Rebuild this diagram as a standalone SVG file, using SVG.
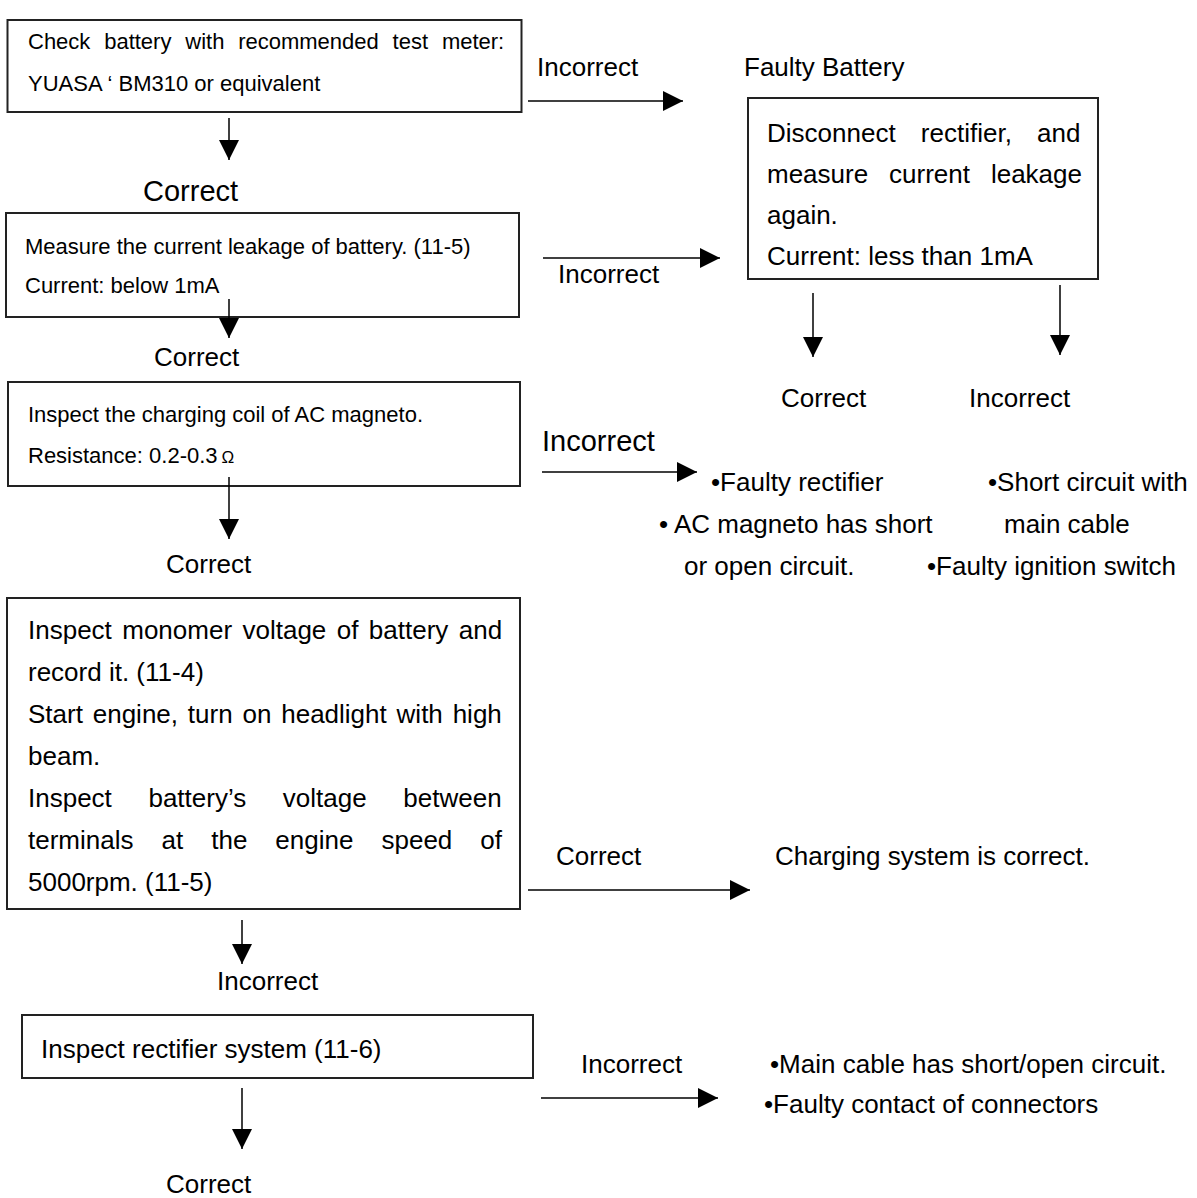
<svg xmlns="http://www.w3.org/2000/svg" width="1197" height="1198" viewBox="0 0 1197 1198">
<style>
text{font-family:"Liberation Sans",Arial,sans-serif;fill:#000}
.box{fill:#fff;stroke:#222;stroke-width:2}
.t22{font-size:22px}
.t26{font-size:26px}
.t29{font-size:29px}
.con{fill:none;stroke:#000;stroke-width:1.5;marker-end:url(#ah)}
</style>
<defs>
<marker id="ah" markerUnits="userSpaceOnUse" viewBox="0 0 20 20" markerWidth="20" markerHeight="20" refX="20" refY="10" orient="auto"><path d="M0,0 L20,10 L0,20 z" fill="#000"/></marker>
</defs>
<rect width="1197" height="1198" fill="#fff"/>

<g id="n1">
<rect class="box" x="7.5" y="20" width="514" height="92"/>
<text class="t22" x="28" y="49" word-spacing="7.7">Check battery with recommended test meter:</text>
<text class="t22" x="28" y="91">YUASA ‘ BM310 or equivalent</text>
</g>

<g id="n2">
<rect class="box" x="6" y="213" width="513" height="104"/>
<text class="t22" x="25" y="254">Measure the current leakage of battery. (11-5)</text>
<text class="t22" x="25" y="293">Current: below 1mA</text>
</g>

<g id="n3">
<rect class="box" x="8" y="382" width="512" height="104"/>
<text class="t22" x="28" y="422">Inspect the charging coil of AC magneto.</text>
<text class="t22" x="28" y="463">Resistance: 0.2-0.3<tspan dx="4" font-size="17">Ω</tspan></text>
</g>

<g id="n4">
<rect class="box" x="7" y="598" width="513" height="311"/>
<text class="t26" x="28" y="639" word-spacing="3.2">Inspect monomer voltage of battery and</text>
<text class="t26" x="28" y="681">record it. (11-4)</text>
<text class="t26" x="28" y="723" word-spacing="2.6">Start engine, turn on headlight with high</text>
<text class="t26" x="28" y="765">beam.</text>
<text class="t26" x="28" y="807" word-spacing="29.4">Inspect battery’s voltage between</text>
<text class="t26" x="28" y="849" word-spacing="20.8">terminals at the engine speed of</text>
<text class="t26" x="28" y="891">5000rpm. (11-5)</text>
</g>

<g id="n5">
<rect class="box" x="22" y="1015" width="511" height="63"/>
<text class="t26" x="41" y="1058">Inspect rectifier system (11-6)</text>
</g>

<g id="n6">
<rect class="box" x="748" y="98" width="350" height="181"/>
<text class="t26" x="767" y="142" word-spacing="18">Disconnect rectifier, and</text>
<text class="t26" x="767" y="183" word-spacing="13.7">measure current leakage</text>
<text class="t26" x="767" y="224">again.</text>
<text class="t26" x="767" y="265">Current: less than 1mA</text>
</g>

<g id="n7">
<text class="t26" x="744" y="76">Faulty Battery</text>
</g>

<g id="n8">
<text class="t26" x="711" y="491">•Faulty rectifier</text>
<text class="t26" x="659" y="533">• AC magneto has short</text>
<text class="t26" x="684" y="575">or open circuit.</text>
</g>

<g id="n9">
<text class="t26" x="988" y="491">•Short circuit with</text>
<text class="t26" x="1004" y="533">main cable</text>
<text class="t26" x="927" y="575">•Faulty ignition switch</text>
</g>

<g id="n10">
<text class="t26" x="775" y="865">Charging system is correct.</text>
</g>

<g id="n11">
<text class="t26" x="770" y="1073">•Main cable has short/open circuit.</text>
<text class="t26" x="764" y="1113">•Faulty contact of connectors</text>
</g>

<g id="connectors">
<path class="con" d="M229,118 V160"/>
<path class="con" d="M229,299 V338"/>
<path class="con" d="M229,477 V539"/>
<path class="con" d="M242,920 V964"/>
<path class="con" d="M242,1088 V1149"/>
<path class="con" d="M528,101 H683"/>
<path class="con" d="M543,258 H720"/>
<path class="con" d="M542,472 H697"/>
<path class="con" d="M528,890 H750"/>
<path class="con" d="M541,1098 H718"/>
<path class="con" d="M813,293 V357"/>
<path class="con" d="M1060,285 V355"/>
<text class="t29" x="143" y="201">Correct</text>
<text class="t26" x="154" y="366">Correct</text>
<text class="t26" x="166" y="573">Correct</text>
<text class="t26" x="217" y="990">Incorrect</text>
<text class="t26" x="166" y="1193">Correct</text>
<text class="t26" x="537" y="76">Incorrect</text>
<text class="t26" x="558" y="283">Incorrect</text>
<text class="t29" x="542" y="451">Incorrect</text>
<text class="t26" x="556" y="865">Correct</text>
<text class="t26" x="581" y="1073">Incorrect</text>
<text class="t26" x="781" y="407">Correct</text>
<text class="t26" x="969" y="407">Incorrect</text>
</g>
</svg>
